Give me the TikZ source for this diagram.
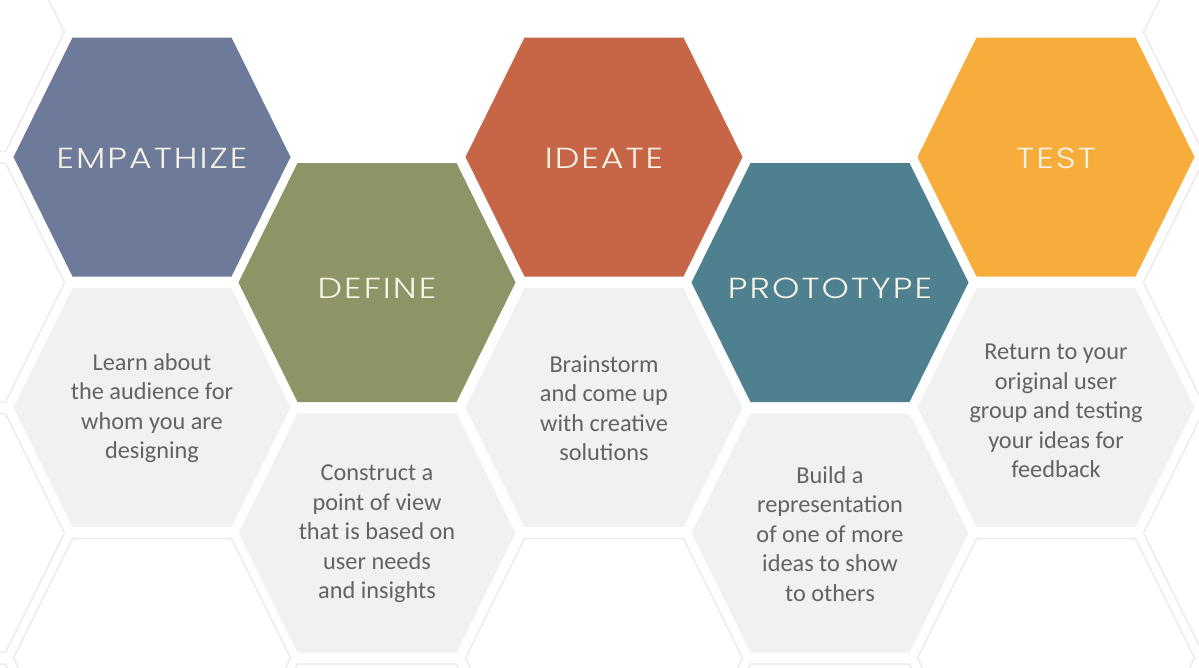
\documentclass[tikz,border=0pt]{standalone}
\usepackage{fontspec}
\setmainfont{Carlito}
\newfontfamily\titlefont{Poppins Light}[LetterSpace=7,FakeStretch=1.2]

\definecolor{empcol}{HTML}{6E7A99}
\definecolor{defcol}{HTML}{8D9466}
\definecolor{idecol}{HTML}{C76647}
\definecolor{procol}{HTML}{4F808F}
\definecolor{tstcol}{HTML}{F7AD3C}
\definecolor{cellgray}{HTML}{F1F1F1}
\definecolor{celledge}{HTML}{E9E9E9}
\definecolor{desctext}{HTML}{636363}
\definecolor{titletext}{HTML}{F6F2E6}

\tikzset{
  hexcell/.pic={
    \path[pic actions] (-138.5,0) -- (-79.5,-119.5) -- (79.5,-119.5)
      -- (138.5,0) -- (79.5,119.5) -- (-79.5,119.5) -- cycle;
  },
  emptycell/.style={draw=celledge, line width=1.3pt, fill=white},
  textcell/.style={fill=cellgray},
  title/.style={text=titletext, inner sep=0pt,
    font=\titlefont\fontsize{29}{31}\selectfont},
  desc/.style={text=desctext, inner sep=0pt, align=center,
    font=\fontsize{24.3}{29.5}\selectfont}
}

\begin{document}
\begin{tikzpicture}[x=1pt,y=-1pt]
\useasboundingbox (0,0) rectangle (1199,667);
\clip (0,0) rectangle (1199,667);
\fill[white] (0,0) rectangle (1199,667);

% empty outlined cells of the honeycomb
\foreach \cy in {32,282.5,533,783.5}{
  \pic[emptycell] at (-74,\cy) {hexcell};
  \pic[emptycell] at (1282,\cy) {hexcell};
}
\foreach \cx in {152,604,1056}{
  \pic[emptycell] at (\cx,658) {hexcell};
}
\foreach \cx in {377,830}{
  \pic[emptycell] at (\cx,783.5) {hexcell};
}

% light grey description cells
\pic[textcell] at (152,407.5) {hexcell};
\pic[textcell] at (377,533) {hexcell};
\pic[textcell] at (604,407.5) {hexcell};
\pic[textcell] at (830,533) {hexcell};
\pic[textcell] at (1056,407.5) {hexcell};

% coloured stage cells
\pic[fill=empcol] at (152,157) {hexcell};
\pic[fill=defcol] at (377,282.5) {hexcell};
\pic[fill=idecol] at (604,157) {hexcell};
\pic[fill=procol] at (830,282.5) {hexcell};
\pic[fill=tstcol] at (1056,157) {hexcell};

% stage titles
\node[title] (empathize) at (152,158) {EMPATHIZE};
\node[title] (define)    at (377,288.5) {DEFINE};
\node[title] (ideate)    at (604,158) {IDEATE};
\node[title] (prototype) at (830,288.5) {PROTOTYPE};
\node[title] (test)      at (1056,158) {TEST};

% stage descriptions
\node[desc] (learn) at (152,408)
  {Learn about\\the audience for\\whom you are\\designing};
\node[desc] (construct) at (377,534)
  {Construct a\\point of view\\that is based on\\user needs\\and insights};
\node[desc] (brainstorm) at (604,408)
  {Brainstorm\\and come up\\with creative\\solutions};
\node[desc] (build) at (830,534)
  {Build a\\representation\\of one of more\\ideas to show\\to others};
\node[desc] (return) at (1056,411)
  {Return to your\\original user\\group and testing\\your ideas for\\feedback};
\end{tikzpicture}
\end{document}
